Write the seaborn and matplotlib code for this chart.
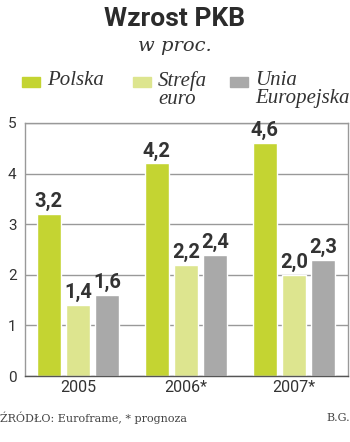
import matplotlib
matplotlib.use("Agg")
import matplotlib.pyplot as plt
from matplotlib.patches import Rectangle
import seaborn as sns
import pandas as pd

years = ["2005", "2006*", "2007*"]
series = ["Polska", "Strefa euro", "Unia Europejska"]
legend_labels = ["Polska", "Strefa\neuro", "Unia\nEuropejska"]
polska = [3.2, 4.2, 4.6]
strefa = [1.4, 2.2, 2.0]
unia = [1.6, 2.4, 2.3]
yticks = [0, 1, 2, 3, 4, 5]
colors = ["#c4d432", "#dde58f", "#a9a9a9"]

df = pd.DataFrame({
    "year": years * 3,
    "series": [series[0]] * 3 + [series[1]] * 3 + [series[2]] * 3,
    "value": polska + strefa + unia,
})

sns.set_theme(style="white")
plt.rcParams["font.family"] = ["DejaVu Sans"]

fig = plt.figure(figsize=(3.5, 4.42), dpi=100)
ax = fig.add_axes([25 / 350, 1 - 376 / 442, 323 / 350, 253 / 442])

sns.barplot(data=df, x="year", y="value", hue="series", order=years,
            hue_order=series, palette=colors, width=0.81, gap=0.18,
            saturation=1, legend=False, ax=ax, errorbar=None)

for cont in ax.containers:
    ax.bar_label(cont, labels=[f"{b.get_height():.1f}".replace(".", ",") for b in cont],
                 padding=2, fontsize=14.5, fontweight="bold", color="#333333",
                 family="Roboto")

ax.set_ylim(0, 5)
ax.set_xlim(-0.49, 2.5)
ax.set_yticks(yticks)
ax.set_yticklabels([str(t) for t in yticks], fontsize=11, color="#333333", family="Roboto")
ax.set_xticklabels(years, fontsize=11.5, color="#333333", family="Roboto")
ax.tick_params(axis="both", length=0, pad=3)
ax.tick_params(axis="y", pad=6)
ax.set_xlabel("")
ax.set_ylabel("")
ax.yaxis.grid(True, color="#999999", linewidth=1)
ax.set_axisbelow(True)
for side, sp in ax.spines.items():
    sp.set_visible(True)
    sp.set_color("#999999")
    sp.set_linewidth(1)
ax.spines["bottom"].set_color("#555555")

fig.text(175 / 350, 1 - 19 / 442, "Wzrost PKB", ha="center", va="center",
         fontsize=19, fontweight="bold", color="#2b2b2b", family="Roboto")
fig.text(175 / 350, 1 - 46 / 442, "w proc.", ha="center", va="center",
         fontsize=14, style="italic", color="#333333", family="DejaVu Serif")

leg_x = [22, 133, 230]
for i, (lx, lab) in enumerate(zip(leg_x, legend_labels)):
    fig.patches.append(Rectangle((lx / 350, 1 - 87 / 442), 18 / 350, 10 / 442,
                                 transform=fig.transFigure, color=colors[i]))
    fig.text((lx + 25) / 350, 1 - 71 / 442, lab, ha="left", va="top",
             fontsize=15, style="italic", color="#333333",
             family="Liberation Serif", linespacing=0.9)

fig.text(0, 1 - 418 / 442, "ŹRÓDŁO: Euroframe, * prognoza", ha="left", va="center",
         fontsize=8, color="#444444", family="DejaVu Serif")
fig.text(1, 1 - 418 / 442, "B.G.", ha="right", va="center",
         fontsize=8, color="#444444", family="DejaVu Serif")

fig.savefig("out.png", dpi=100)
